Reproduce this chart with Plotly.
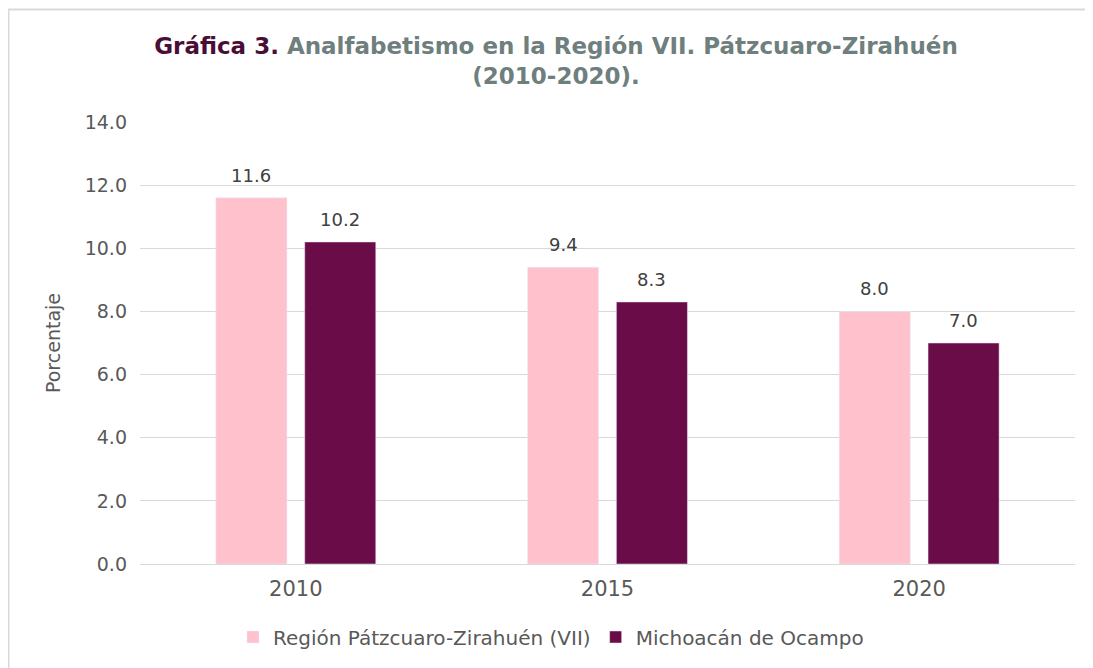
import plotly.graph_objects as go

years = ["2010", "2015", "2020"]
region_vals = [11.6, 9.4, 8.0]
michoacan_vals = [10.2, 8.3, 7.0]
series_names = ["Región Pátzcuaro-Zirahuén (VII)", "Michoacán de Ocampo"]
y_ticks = [0, 2, 4, 6, 8, 10, 12, 14]

FONT = "DejaVu Sans"
TFONT = "DejaVu Sans"
BARGAP, GROUPGAP = 0.43, 0.2
# page has an 8px body margin, so the figure is offset by (8, 8)
OFF = 8
W, H = 1093 - OFF, 668 - OFF
L, R, T, B = 140 - OFF, 18, 122 - OFF, 104
pw, ph = W - L - R, H - T - B


def py(page_y):
    return (H - B - (page_y - OFF)) / ph


def px(page_x):
    return (page_x - OFF - L) / pw


colors = ["#FFC2CD", "#6A0C47"]
series_vals = [region_vals, michoacan_vals]

fig = go.Figure()
for name, vals, col in zip(series_names, series_vals, colors):
    fig.add_trace(go.Bar(x=years, y=vals, name=name, marker_color=col))

# value labels above each bar (offset of each bar within its group from the layout)
slot = (pw / len(years)) * (1 - BARGAP) / len(series_vals)
for i, vals in enumerate(series_vals):
    shift = (i - (len(series_vals) - 1) / 2) * slot
    for j, v in enumerate(vals):
        fig.add_annotation(
            x=j, y=v, xref="x", yref="y", text=f"{v:.1f}", showarrow=False,
            xanchor="center", yanchor="bottom", xshift=shift, yshift=10,
            font=dict(size=18, color="#404040", family=FONT),
        )

fig.update_layout(
    width=W, height=H,
    margin=dict(l=L, r=R, t=T, b=B),
    paper_bgcolor="white", plot_bgcolor="white",
    barmode="group", bargap=BARGAP, bargroupgap=GROUPGAP,
    font=dict(family=FONT, color="#595959"),
    title=dict(
        text="<span style='color:#4A0E36'>Gráfica 3.</span> "
             "Analfabetismo en la Región VII. Pátzcuaro-Zirahuén<br>(2010-2020).",
        x=(556 - OFF) / W, xanchor="center", y=1 - (54 - OFF) / H, yanchor="middle",
        font=dict(size=23, color="#6E7F7E", family=TFONT, weight="bold"),
    ),
    xaxis=dict(
        type="category", range=[-0.5, len(years) - 0.5],
        showline=True, linecolor="#D9D9D9", linewidth=1,
        tickfont=dict(size=21, color="#595959"), ticks="",
        ticklabelstandoff=6,
    ),
    yaxis=dict(
        range=[0, 14], tickvals=y_ticks,
        ticktext=[f"{v:.1f}" for v in y_ticks],
        showgrid=True, gridcolor="#D9D9D9", gridwidth=1,
        zeroline=False, showline=False,
        tickfont=dict(size=19, color="#595959"),
        title=dict(text="Porcentaje", font=dict(size=19, color="#595959"), standoff=19),
        ticklabelstandoff=12,
    ),
    legend=dict(
        orientation="h", x=px(551), xanchor="center", y=py(637), yanchor="middle",
        font=dict(size=20, color="#595959"), itemwidth=30,
        traceorder="normal",
    ),
    showlegend=True,
)

# chart border
fig.add_shape(
    type="rect", xref="paper", yref="paper",
    x0=px(8.5), x1=px(1091),
    y0=py(680), y1=py(9.5),
    line=dict(color="#D9D9D9", width=2), fillcolor="rgba(0,0,0,0)", layer="below",
)

fig.write_html("out.html")
